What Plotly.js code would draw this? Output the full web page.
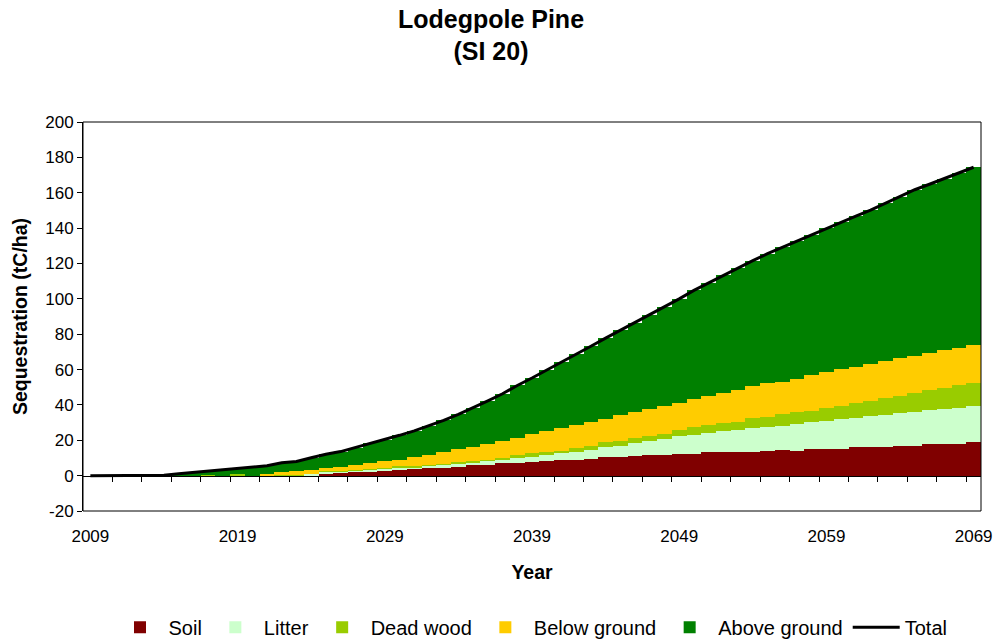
<!DOCTYPE html>
<html>
<head>
<meta charset="utf-8">
<script src="https://cdn.plot.ly/plotly-3.0.1.min.js"></script>
<style>
  html, body { margin: 0; padding: 0; background: #fff; }
  #chart { width: 1001px; height: 643px; }
</style>
</head>
<body>
<div id="chart"></div>
<script>
// Years 2009..2069
const years = [2009,2010,2011,2012,2013,2014,2015,2016,2017,2018,2019,2020,2021,2022,2023,2024,2025,2026,2027,2028,2029,2030,2031,2032,2033,2034,2035,2036,2037,2038,2039,2040,2041,2042,2043,2044,2045,2046,2047,2048,2049,2050,2051,2052,2053,2054,2055,2056,2057,2058,2059,2060,2061,2062,2063,2064,2065,2066,2067,2068,2069];

const soil = [0,0,0,0,0,0,0,0,0,0,0,0,0,0,0,0,0.9,1.4,1.8,2.3,2.8,3.2,3.6,4.1,4.6,5.1,5.8,6.2,6.9,7.4,7.9,8.4,8.8,9.0,9.4,10.3,10.5,11.3,11.4,11.7,12.2,12.2,13.5,13.5,13.5,13.6,13.9,14.5,13.9,15.0,15.0,15.0,16.3,16.3,16.3,16.9,16.9,17.9,17.9,17.9,19.0];

const litter = [0,0,0,0,0,0,0,0,0,0,0,0,0,0,0,0.9,1.0,0.9,1.0,1.0,1.0,1.0,1.0,1.1,1.2,1.5,1.5,1.8,1.9,2.5,2.8,3.3,3.8,4.6,5.2,5.7,6.5,7.0,8.0,9.1,10.0,11.0,10.7,11.5,12.3,13.1,13.6,13.8,15.3,15.1,16.0,16.8,16.4,17.2,18.1,18.3,19.1,19.0,19.8,20.6,20.4];

const deadWood = [0,0,0,0,0,0,0,0,0.3,0,0.8,0,0,0.3,0.6,0.3,0.6,0.6,0.5,0.6,0.8,1.0,1.0,1.0,0.9,1.0,1.1,1.0,1.4,1.5,1.9,1.7,1.6,2.0,2.2,2.8,2.8,3.0,3.0,2.8,3.8,4.1,4.4,4.9,4.7,6.1,5.8,6.5,7.0,6.6,7.4,7.7,8.5,8.9,9.7,9.8,10.9,11.5,11.8,12.7,13.1];

const belowGround = [0,0,0,0,0,0,0,0,0,0,0,0,1.1,2.0,1.9,2.0,1.9,2.1,2.7,3.0,3.7,3.8,4.7,5.5,6.6,7.2,8.0,8.9,9.4,9.7,10.9,11.8,12.5,13.0,13.3,13.1,14.5,14.7,15.3,15.8,14.9,16.0,16.4,16.8,17.9,17.9,19.1,18.1,18.4,20.2,20.2,20.8,20.2,20.7,20.7,21.5,20.7,20.9,21.5,21.0,21.4];

const aboveGround = [0,0,0,0,0,0.2,1.1,1.9,2.3,3.2,3.3,4.9,4.5,5.0,5.5,6.9,7.7,8.6,9.8,11.4,12.0,13.8,15.0,16.5,17.9,19.9,21.9,24.4,26.7,29.9,31.7,34.4,37.3,40.2,43.1,45.9,47.9,50.6,53.1,55.8,59.1,61.5,64.1,66.6,69.0,70.9,73.1,76.2,78.1,79.4,81.3,83.1,85.4,87.1,89.2,91.1,94.1,95.5,96.9,99.0,100.5];

const total = [0,0,0,0,0,0.2,1.1,1.9,2.6,3.2,4.1,4.9,5.6,7.3,8.0,10.1,12.1,13.6,15.8,18.3,20.3,22.8,25.3,28.2,31.2,34.7,38.3,42.3,46.3,51.0,55.2,59.6,64.0,68.8,73.2,77.8,82.2,86.6,90.8,95.2,100.0,104.8,109.1,113.3,117.4,121.6,125.5,129.1,132.7,136.3,139.9,143.4,146.8,150.2,154.0,157.6,161.7,164.8,167.9,171.2,174.4];

const seriesNames = ["Soil", "Litter", "Dead wood", "Below ground", "Above ground"];
const seriesColors = ["#800000", "#CCFFCC", "#99CC00", "#FFCC00", "#008000"];
const seriesData = [soil, litter, deadWood, belowGround, aboveGround];

const labelYears = [2009, 2019, 2029, 2039, 2049, 2059, 2069];
const yTicks = [-20,0,20,40,60,80,100,120,140,160,180,200];

// tick marks at category boundaries, every 2 categories
const boundaryTicks = [];
for (let i = 2; i < years.length; i += 2) boundaryTicks.push(years[0] - 0.5 + i);

const FONT = "Liberation Sans, Arial, sans-serif";
const xRange = [years[0] - 0.5, years[years.length - 1] + 0.5];
const yRange = [yTicks[0], yTicks[yTicks.length - 1]];

const traces = seriesData.map((d, i) => ({
  type: "bar",
  name: seriesNames[i],
  x: years,
  y: d,
  marker: { color: seriesColors[i], line: { width: 0 } },
  xaxis: "x",
  yaxis: "y",
  hoverinfo: "x+y+name"
}));

traces.push({
  type: "scatter",
  mode: "lines",
  name: "Total",
  x: years,
  y: total,
  line: { color: "#000000", width: 3 },
  xaxis: "x",
  yaxis: "y"
});

// empty helper trace so the labelled bottom axis (x2) is drawn
traces.push({
  type: "scatter",
  mode: "none",
  x: [],
  y: [],
  xaxis: "x2",
  yaxis: "y",
  showlegend: false,
  hoverinfo: "skip"
});

const layout = {
  width: 1001,
  height: 643,
  paper_bgcolor: "#ffffff",
  plot_bgcolor: "#ffffff",
  margin: { l: 83, r: 20, t: 122, b: 132, autoexpand: false },
  barmode: "stack",
  bargap: 0,
  font: { family: FONT, color: "#000", size: 17 },
  title: {
    text: "<b>Lodegpole Pine<br>(SI 20)</b>",
    font: { family: FONT, size: 25, color: "#000" },
    x: 0.4905, xanchor: "center",
    xref: "container", yref: "container",
    y: 0.957, yanchor: "top",
    automargin: false
  },
  xaxis: {
    type: "linear",
    range: xRange,
    anchor: "free",
    position: (0 - yRange[0]) / (yRange[1] - yRange[0]),
    tickmode: "array",
    tickvals: boundaryTicks,
    ticks: "outside",
    ticklen: 5,
    tickwidth: 1,
    tickcolor: "#000",
    showticklabels: false,
    showline: true,
    linecolor: "#000",
    linewidth: 1,
    showgrid: false,
    zeroline: false,
    automargin: false,
    fixedrange: true
  },
  xaxis2: {
    type: "linear",
    overlaying: "x",
    anchor: "y",
    side: "bottom",
    range: xRange,
    tickmode: "array",
    tickvals: labelYears,
    ticktext: labelYears.map(String),
    ticks: "outside",
    ticklen: 10,
    tickcolor: "rgba(0,0,0,0)",
    tickfont: { family: FONT, size: 17, color: "#000" },
    showline: false,
    showgrid: false,
    zeroline: false,
    automargin: false,
    title: { text: "<b>Year</b>", font: { family: FONT, size: 19.5, color: "#000" }, standoff: 19 }
  },
  yaxis: {
    range: yRange,
    tickmode: "array",
    tickvals: yTicks,
    ticktext: yTicks.map(String),
    ticks: "outside",
    ticklen: 5,
    tickcolor: "#000",
    tickfont: { family: FONT, size: 17, color: "#000" },
    showline: true,
    linecolor: "#000",
    linewidth: 1,
    showgrid: false,
    zeroline: false,
    automargin: false,
    title: { text: "<b>Sequestration (tC/ha)</b>", font: { family: FONT, size: 19.5, color: "#000" }, standoff: 12 }
  },
  shapes: [{
    type: "rect", xref: "paper", yref: "paper",
    x0: 0, x1: 1, y0: 0, y1: 1,
    line: { color: "#000", width: 1 }, fillcolor: "rgba(0,0,0,0)",
    layer: "above"
  }],
  legend: {
    orientation: "h",
    x: 0.5, xanchor: "center",
    y: -0.249, yanchor: "top",
    font: { family: FONT, size: 20, color: "#000" },
    itemwidth: 47,
    traceorder: "normal",
    bgcolor: "rgba(0,0,0,0)"
  },
  showlegend: true
};

Plotly.newPlot("chart", traces, layout, { displayModeBar: false, staticPlot: true });
</script>
</body>
</html>
